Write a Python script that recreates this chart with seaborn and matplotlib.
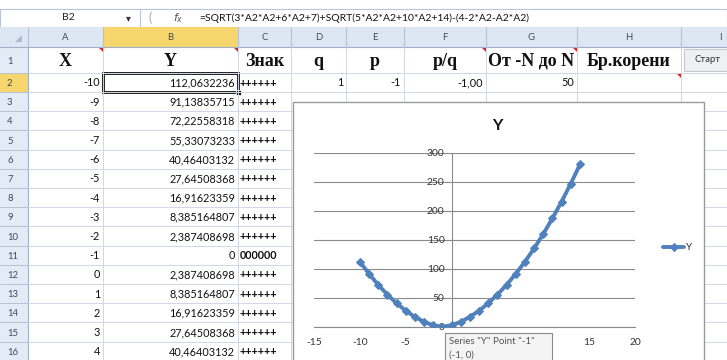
import matplotlib
matplotlib.use("Agg")
import matplotlib.pyplot as plt
import seaborn as sns
import pandas as pd
from matplotlib.patches import Rectangle, Polygon

# ---------------- data ----------------
chart_x = [-10, -9, -8, -7, -6, -5, -4, -3, -2, -1, 0, 1, 2, 3, 4,
           5, 6, 7, 8, 9, 10, 11, 12, 13, 14]
chart_y = [112.0632236, 91.13835715, 72.22558318, 55.33073233, 40.46403132,
           27.64508368, 16.91623359, 8.385164807, 2.387408698, 0.0,
           2.387408698, 8.385164807, 16.91623359, 27.64508368, 40.46403132,
           55.33073233, 72.22558318, 91.13835715, 112.0632236, 135.00,
           159.94, 186.88, 215.83, 246.78, 279.73]

table_x = ["-10", "-9", "-8", "-7", "-6", "-5", "-4", "-3", "-2", "-1",
           "0", "1", "2", "3", "4"]
table_y = ["112,0632236", "91,13835715", "72,22558318", "55,33073233",
           "40,46403132", "27,64508368", "16,91623359", "8,385164807",
           "2,387408698", "0", "2,387408698", "8,385164807", "16,91623359",
           "27,64508368", "40,46403132"]
table_sign = ["++++++"] * 9 + ["000000"] + ["++++++"] * 5
header_row = ["X", "Y", "Знак", "q", "p", "p/q", "От -N до N", "Бр.корени"]
row2_extra = {"D": "1", "E": "-1", "F": "-1,00", "G": "50"}
col_names = ["A", "B", "C", "D", "E", "F", "G", "H", "I"]
formula = "=SQRT(3*A2*A2+6*A2+7)+SQRT(5*A2*A2+10*A2+14)-(4-2*A2-A2*A2)"
x_ticks = [-15, -10, -5, 0, 5, 10, 15, 20]
# labels 0, 5 and 10 are hidden under the tooltip in the reference
x_tick_labels = ["-15", "-10", "-5", "", "", "", "15", "20"]
y_ticks = [0, 50, 100, 150, 200, 250, 300]

# ---------------- figure ----------------
sns.set_theme(style="white")
plt.rcParams['font.family'] = ['Lato', 'DejaVu Sans']

W, H = 727, 360
fig = plt.figure(figsize=(7.27, 3.6), dpi=100)
bg = fig.add_axes([0, 0, 1, 1])
bg.set_xlim(0, W)
bg.set_ylim(H, 0)
bg.axis('off')

edges = [0, 28, 103, 238, 291, 346, 404, 486, 577, 681, 760]
grid_c = '#d0d7e5'
hdr_c = '#dde7f3'
sel_c = '#f7d66e'

# formula bar
bg.add_patch(Rectangle((0, 9), W, 18, facecolor='white', edgecolor='#b9c6d8', lw=0.8))
bg.add_patch(Rectangle((0, 9), 140, 18, facecolor='white', edgecolor='#b9c6d8', lw=0.8))
bg.text(68, 18, "B2", ha='center', va='center', fontsize=7.5, color='#222222')
bg.text(128, 18.5, "▾", ha='center', va='center', fontsize=7, color='#333333',
        family=['DejaVu Sans'])
bg.text(150, 18, "(", ha='center', va='center', fontsize=9, color='#aaaaaa')
bg.text(178, 18, "$f_x$", ha='center', va='center', fontsize=8, color='#555555')
bg.text(199, 18, formula, ha='left', va='center', fontsize=7.5, color='#111111')

# row geometry
row_tops = [47, 73] + [92 + 19.2 * i for i in range(15)]
row_bots = row_tops[1:] + [92 + 19.2 * 15]

# column headers
bg.add_patch(Rectangle((0, 27), W, 20, facecolor=hdr_c, edgecolor='none'))
bg.add_patch(Rectangle((edges[2], 27), edges[3] - edges[2], 20, facecolor=sel_c, edgecolor='none'))
for i, name in enumerate(col_names):
    x0, x1 = edges[i + 1], edges[i + 2]
    bg.text((x0 + x1) / 2, 37.5, name, ha='center', va='center', fontsize=6.8, color='#3d4b5c')
for e in edges[1:]:
    bg.plot([e, e], [27, 47], color='#b4c2d6', lw=0.8)
bg.plot([0, W], [47, 47], color='#9fb1c9', lw=0.8)
bg.add_patch(Polygon([[22, 42], [22, 35], [15, 42]], closed=True, facecolor='#b0bccb', edgecolor='none'))

# row headers
bg.add_patch(Rectangle((0, 47), 28, H - 47, facecolor='#e3ebf6', edgecolor='none'))
bg.add_patch(Rectangle((0, row_tops[1]), 28, row_bots[1] - row_tops[1], facecolor=sel_c, edgecolor='none'))
for r in range(16):
    yc = (row_tops[r] + row_bots[r]) / 2
    bg.text(7, yc + 1, str(r + 1), ha='left', va='center', fontsize=6.8, color='#3d4b5c')
    bg.plot([0, 28], [row_bots[r], row_bots[r]], color='#b4c2d6', lw=0.7)
bg.plot([28, 28], [47, H], color='#9fb1c9', lw=0.8)

# cell grid
for r in range(16):
    bg.plot([28, W], [row_bots[r], row_bots[r]], color=grid_c, lw=0.7)
for e in edges[2:]:
    bg.plot([e, e], [47, H], color=grid_c, lw=0.7)

# row 1 headers
serif = ['Liberation Serif', 'DejaVu Serif']
for i, txt in enumerate(header_row):
    x0, x1 = edges[i + 1], edges[i + 2]
    bg.text((x0 + x1) / 2, 61, txt, ha='center', va='center', fontsize=13,
            fontweight='bold', family=serif, color='#111111')
# start button
bg.add_patch(Rectangle((684, 49), 46, 22, facecolor='#eef0f3', edgecolor='#c5c9cf', lw=0.8))
bg.text(708, 60, "Старт", ha='center', va='center', fontsize=6.8, color='#333333')
# comment indicators
for cx in [edges[2], edges[3], edges[7], edges[8]]:
    bg.add_patch(Polygon([[cx - 5, 47], [cx, 47], [cx, 52]], closed=True, facecolor='#d9262c', edgecolor='none'))
bg.add_patch(Polygon([[edges[9] - 5, 73], [edges[9], 73], [edges[9], 78]], closed=True,
                     facecolor='#d9262c', edgecolor='none'))

# data rows
for k in range(15):
    r = k + 1
    yc = (row_tops[r] + row_bots[r]) / 2 + 0.5
    bg.text(edges[2] - 3, yc, table_x[k], ha='right', va='center', fontsize=7.8, color='#111111')
    bg.text(edges[3] - 3, yc, table_y[k], ha='right', va='center', fontsize=7.8, color='#111111')
    bg.text(edges[3] + 2, yc, table_sign[k], ha='left', va='center', fontsize=7.8,
            fontweight='bold', color='#111111')
yc2 = (row_tops[1] + row_bots[1]) / 2 + 0.5
for i, name in enumerate(col_names):
    if name in row2_extra:
        bg.text(edges[i + 2] - 3, yc2, row2_extra[name], ha='right', va='center',
                fontsize=7.8, color='#111111')
# selected cell
bg.add_patch(Rectangle((edges[2], row_tops[1]), edges[3] - edges[2], row_bots[1] - row_tops[1],
                       facecolor='none', edgecolor='#111111', lw=2))
bg.add_patch(Rectangle((edges[3] - 2.5, row_bots[1] - 2.5), 5, 5, facecolor='#111111', edgecolor='white', lw=0.6))

# chart frame
bg.add_patch(Rectangle((293, 102), 411, 270, facecolor='white', edgecolor='#9a9a9a', lw=1.0, zorder=5))

# ---------------- chart ----------------
df = pd.DataFrame({"X": chart_x, "Y": chart_y})
ax = fig.add_axes([314 / W, (H - 326.7) / H, 321 / W, 174 / H])
ax.set_facecolor('none')
sns.lineplot(data=df, x="X", y="Y", ax=ax, color='#4f81bd', lw=2.8, marker='D',
             markersize=4.5, markeredgecolor='#4f81bd', label='Y', zorder=4)
ax.set_xlim(-15, 20)
ax.set_ylim(0, 300)
ax.set_xticks(x_ticks)
ax.set_xticklabels(x_tick_labels)
ax.set_yticks(y_ticks)
ax.set_xlabel("")
ax.set_ylabel("")
ax.grid(axis='y', color='#8a8a8a', lw=0.8)
ax.grid(axis='x', visible=False)
for s in ['top', 'right']:
    ax.spines[s].set_visible(False)
ax.spines['left'].set_position(('data', 0))
ax.spines['left'].set_color('#8a8a8a')
ax.spines['bottom'].set_color('#8a8a8a')
ax.spines['left'].set_linewidth(0.8)
ax.spines['bottom'].set_linewidth(0.8)
ax.tick_params(axis='both', direction='out', length=3, width=0.8, color='#8a8a8a',
               labelsize=7.4, labelcolor='#333333', pad=2)
ax.tick_params(axis='x', pad=5)
ax.set_axisbelow(True)
ax.legend(loc='center left', bbox_to_anchor=(658 / W, 1 - 248 / H),
          bbox_transform=fig.transFigure, frameon=False, fontsize=7,
          handlelength=2.2, handletextpad=0.2, borderpad=0)
fig.text(497 / W, 1 - 126 / H, "Y", ha='center', va='center', fontsize=11.5,
         fontweight='bold', color='#111111')

# tooltip overlay
ov = fig.add_axes([0, 0, 1, 1])
ov.set_xlim(0, W)
ov.set_ylim(H, 0)
ov.axis('off')
ov.set_facecolor('none')
ov.add_patch(Rectangle((445, 333), 107, 32, facecolor='#f4f4f4', edgecolor='#8c8c8c', lw=0.8))
ov.text(449, 342, 'Series "Y" Point "-1"', ha='left', va='center', fontsize=7, color='#555555')
ov.text(449, 355, '(-1, 0)', ha='left', va='center', fontsize=7, color='#555555')

fig.savefig("out.png", dpi=100)
